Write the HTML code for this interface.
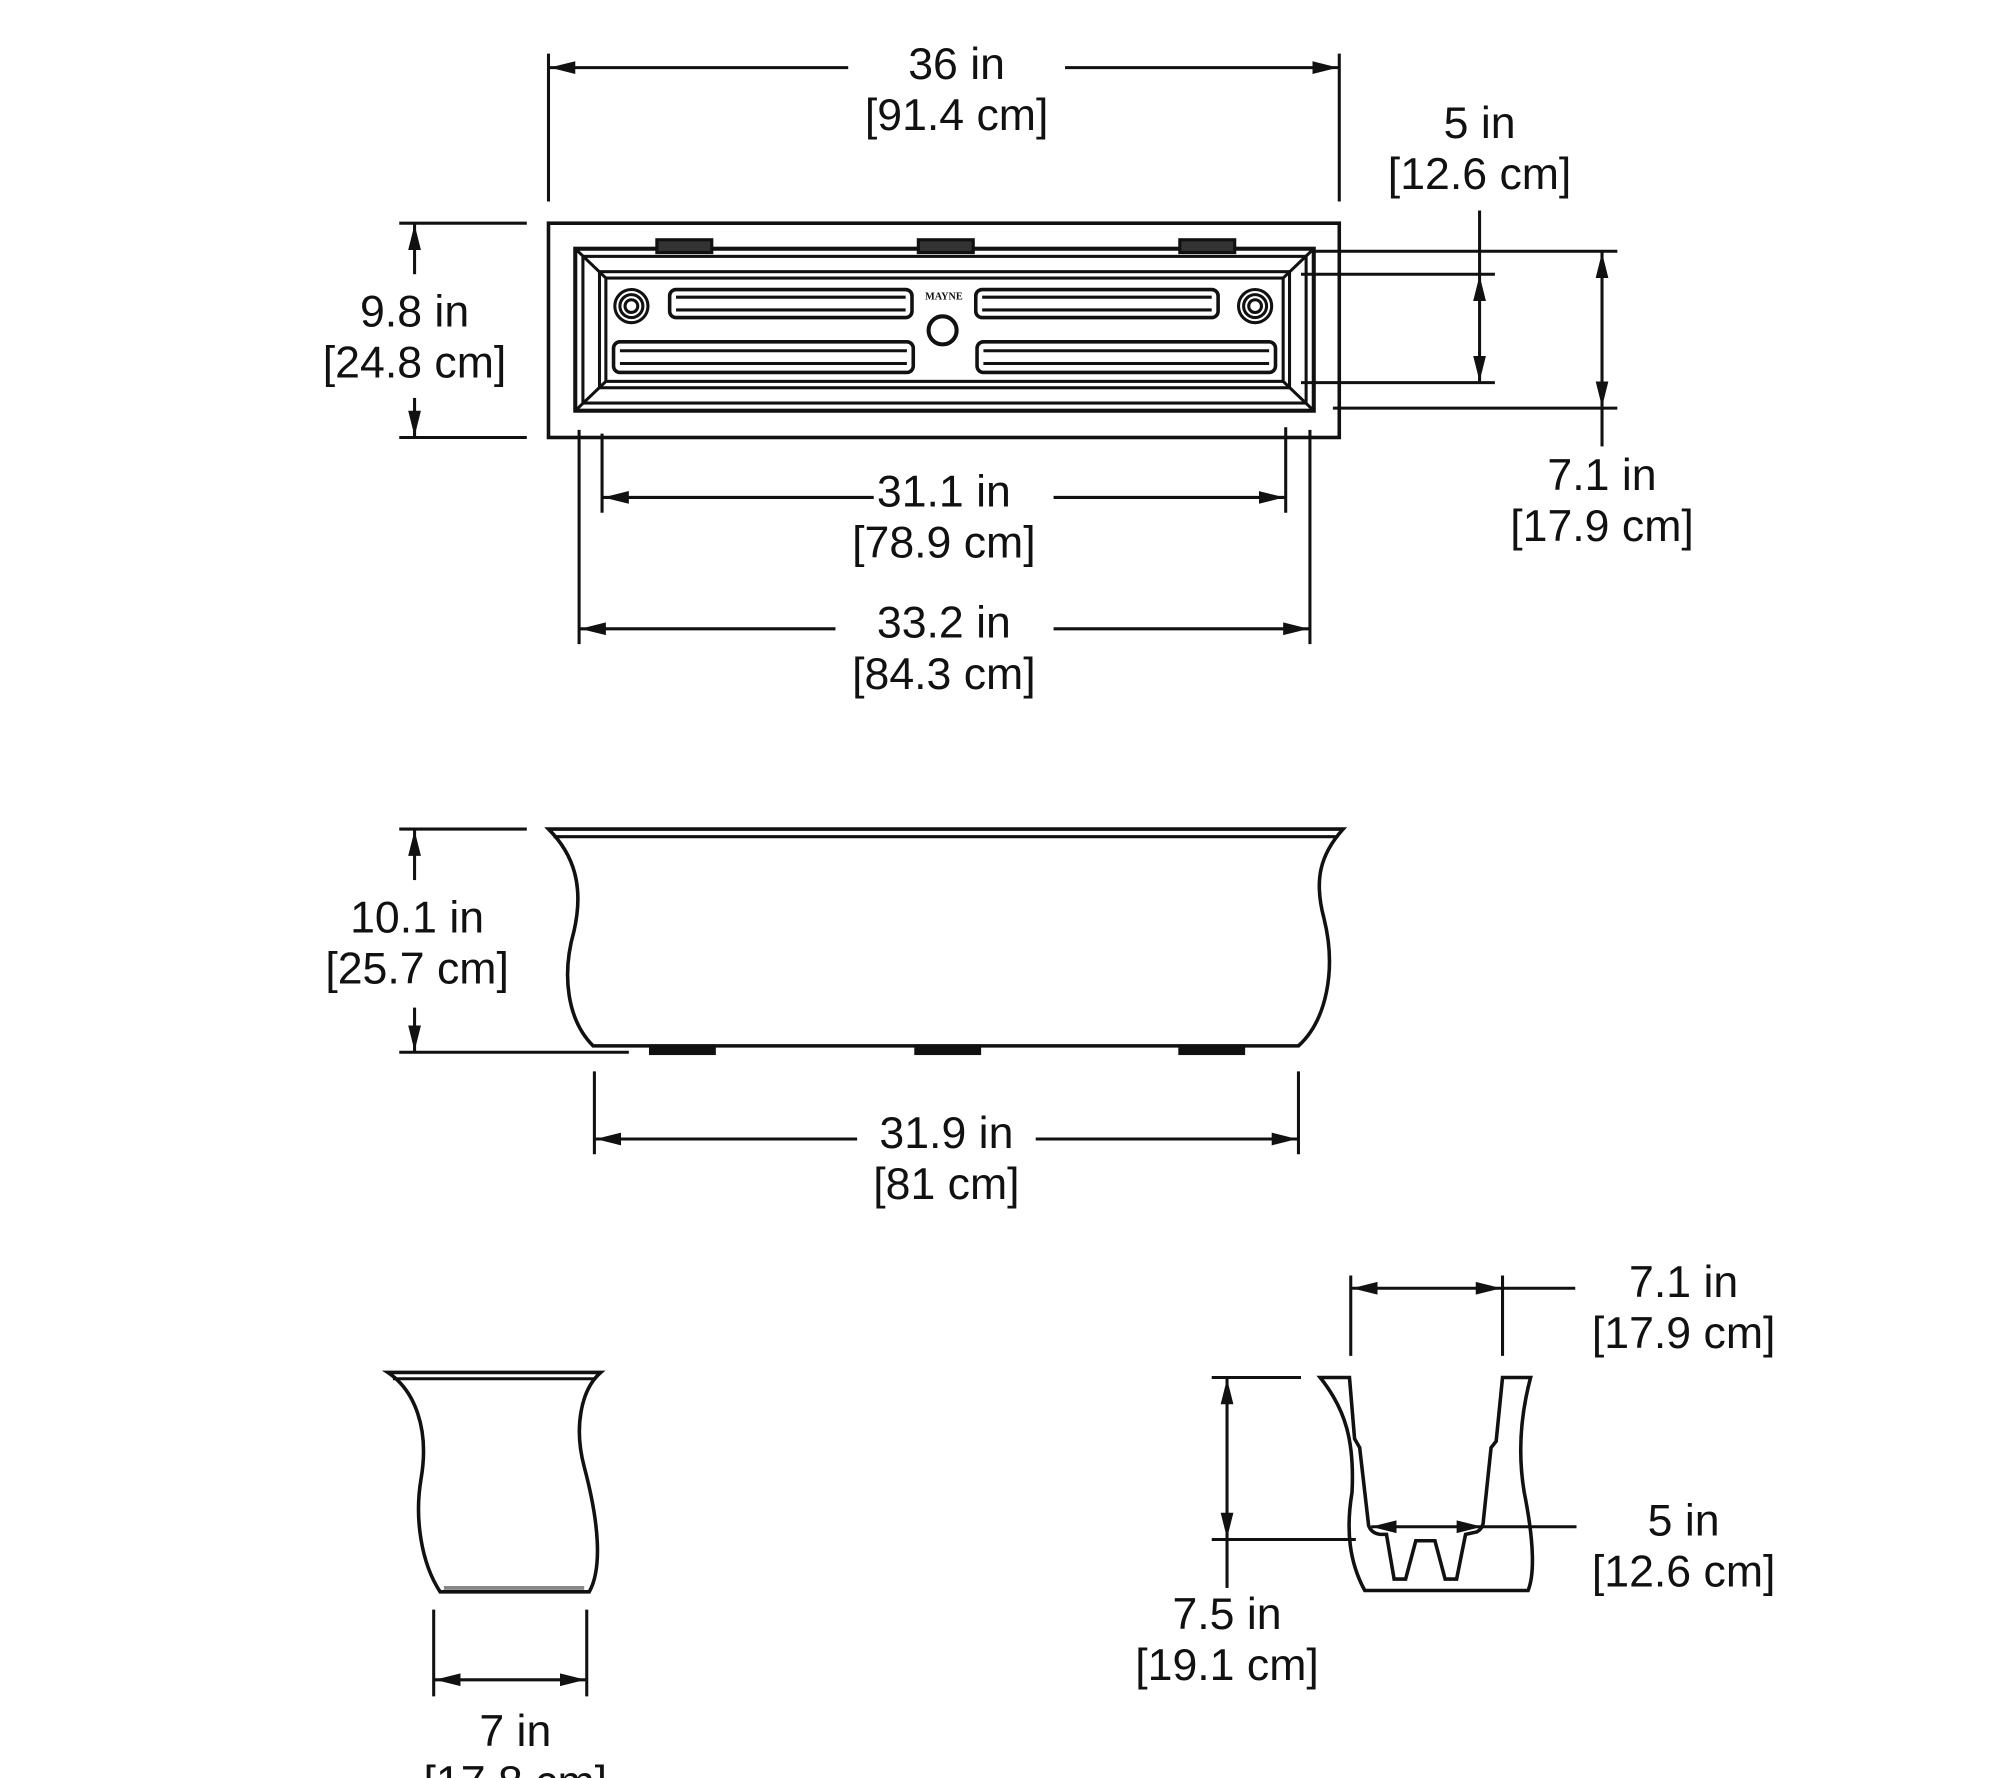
<!DOCTYPE html>
<html><head><meta charset="utf-8"><style>
html,body{margin:0;padding:0;background:#fff;}
svg{display:block;}
text{font-family:"Liberation Sans",Arial,sans-serif;font-size:35px;fill:#111;text-anchor:middle;}
</style></head><body>
<svg width="2000" height="1778" viewBox="0 0 1568 1394" xmlns="http://www.w3.org/2000/svg">
<defs>
<marker id="a" viewBox="0 0 20 10" refX="20" refY="5" markerWidth="20" markerHeight="11" markerUnits="userSpaceOnUse" orient="auto-start-reverse"><path d="M0,0 L20,5 L0,10 z" fill="#111"/></marker>
</defs>
<g stroke="#111" stroke-width="2.4" fill="none">
<!-- TOP VIEW -->
<rect x="430" y="175" width="620" height="168" stroke-width="2.8"/>
<rect x="451" y="195" width="579" height="127" stroke-width="3.2"/>
<rect x="457" y="201" width="567" height="115"/>
<rect x="470" y="213" width="541" height="91"/>
<rect x="475" y="218" width="531" height="81"/>
<path d="M451,195 L475,218 M1030,195 L1006,218 M451,322 L475,299 M1030,322 L1006,299"/>
<g fill="#333" stroke-width="2.5">
<rect x="515" y="188" width="43" height="10"/><rect x="720" y="188" width="43" height="10"/><rect x="925" y="188" width="43" height="10"/>
</g>
<circle cx="495" cy="240" r="13"/><circle cx="495" cy="240" r="9"/><circle cx="495" cy="240" r="5"/>
<circle cx="984" cy="240" r="13"/><circle cx="984" cy="240" r="9"/><circle cx="984" cy="240" r="5"/>
<rect x="525" y="227" width="190" height="22" rx="5" stroke-width="2.8"/><line x1="530" y1="233" x2="710" y2="233"/><line x1="530" y1="243" x2="710" y2="243"/>
<rect x="765" y="227" width="190" height="22" rx="5" stroke-width="2.8"/><line x1="770" y1="233" x2="950" y2="233"/><line x1="770" y1="243" x2="950" y2="243"/>
<rect x="481" y="268" width="235" height="24" rx="5" stroke-width="2.8"/><line x1="486" y1="275" x2="711" y2="275"/><line x1="486" y1="285" x2="711" y2="285"/>
<rect x="766" y="268" width="234" height="24" rx="5" stroke-width="2.8"/><line x1="771" y1="275" x2="995" y2="275"/><line x1="771" y1="285" x2="995" y2="285"/>
<circle cx="739" cy="259" r="11" stroke-width="3.2"/>
<!-- dims top -->
<line x1="430" y1="42" x2="430" y2="158"/><line x1="1050" y1="42" x2="1050" y2="158"/>
<line x1="665" y1="53" x2="431" y2="53" marker-end="url(#a)"/><line x1="835" y1="53" x2="1049" y2="53" marker-end="url(#a)"/>
<line x1="313" y1="175" x2="413" y2="175"/><line x1="313" y1="343" x2="413" y2="343"/>
<line x1="325" y1="215" x2="325" y2="176" marker-end="url(#a)"/><line x1="325" y1="312" x2="325" y2="342" marker-end="url(#a)"/>
<line x1="1020" y1="215" x2="1172" y2="215"/><line x1="1020" y1="300" x2="1172" y2="300"/>
<line x1="1160" y1="165" x2="1160" y2="215"/>
<line x1="1160" y1="216" x2="1160" y2="299" marker-start="url(#a)" marker-end="url(#a)"/>
<line x1="1030" y1="197" x2="1268" y2="197"/><line x1="1045" y1="320" x2="1268" y2="320"/>
<line x1="1256" y1="198" x2="1256" y2="319" marker-start="url(#a)" marker-end="url(#a)"/><line x1="1256" y1="320" x2="1256" y2="350"/>
<line x1="472" y1="340" x2="472" y2="402"/><line x1="1008" y1="335" x2="1008" y2="402"/>
<line x1="685" y1="390" x2="473" y2="390" marker-end="url(#a)"/><line x1="826" y1="390" x2="1007" y2="390" marker-end="url(#a)"/>
<line x1="454" y1="337" x2="454" y2="505"/><line x1="1027" y1="337" x2="1027" y2="505"/>
<line x1="655" y1="493" x2="455" y2="493" marker-end="url(#a)"/><line x1="826" y1="493" x2="1026" y2="493" marker-end="url(#a)"/>
<!-- FRONT VIEW -->
<path d="M430,650 L1053,650 C1035,670 1030,690 1038,720 C1048,760 1040,800 1018,820 L465,820 C445,800 440,765 450,730 C458,695 450,670 430,650 Z" stroke-width="2.8"/>
<line x1="434" y1="656" x2="1049" y2="656"/>
<g fill="#111"><rect x="510" y="820" width="50" height="6"/><rect x="718" y="820" width="50" height="6"/><rect x="925" y="820" width="50" height="6"/></g>
<line x1="313" y1="650" x2="413" y2="650"/><line x1="313" y1="825" x2="493" y2="825"/>
<line x1="325" y1="690" x2="325" y2="651" marker-end="url(#a)"/><line x1="325" y1="790" x2="325" y2="824" marker-end="url(#a)"/>
<line x1="466" y1="840" x2="466" y2="905"/><line x1="1018" y1="840" x2="1018" y2="905"/>
<line x1="672" y1="893" x2="467" y2="893" marker-end="url(#a)"/><line x1="812" y1="893" x2="1017" y2="893" marker-end="url(#a)"/>
<!-- END VIEW -->
<path d="M304,1076 L471,1076 C455,1090 450,1120 458,1150 C470,1195 472,1230 462,1248 L345,1248 C330,1225 325,1190 330,1160 C337,1120 325,1090 304,1076 Z" stroke-width="2.8"/>
<line x1="308" y1="1081" x2="467" y2="1081"/>
<line x1="348" y1="1245" x2="458" y2="1245" stroke-width="3" stroke="#888"/>
<line x1="340" y1="1262" x2="340" y2="1330"/><line x1="460" y1="1262" x2="460" y2="1330"/>
<line x1="341" y1="1317" x2="459" y2="1317" marker-start="url(#a)" marker-end="url(#a)"/>
<!-- SECTION -->
<path d="M1035,1080 L1058,1080 L1062,1128 L1066,1135 L1073,1196 Q1075,1202 1082,1203 L1087,1203 L1093,1238 L1102,1238 L1110,1208 L1125,1208 L1133,1238 L1142,1238 L1149,1203 L1158,1201 Q1163,1198 1163,1192 L1169,1135 L1173,1130 L1178,1080 L1200,1080 C1192,1110 1190,1140 1195,1170 C1203,1210 1203,1235 1198,1247 L1070,1247 C1058,1225 1055,1200 1060,1170 C1062,1130 1055,1105 1035,1080 Z" stroke-width="2.8"/>
<line x1="1059" y1="1000" x2="1059" y2="1063"/><line x1="1178" y1="1000" x2="1178" y2="1063"/>
<line x1="1060" y1="1010" x2="1177" y2="1010" marker-start="url(#a)" marker-end="url(#a)"/><line x1="1178" y1="1010" x2="1235" y2="1010"/>
<line x1="950" y1="1080" x2="1020" y2="1080"/><line x1="950" y1="1207" x2="1063" y2="1207"/>
<line x1="962" y1="1081" x2="962" y2="1206" marker-start="url(#a)" marker-end="url(#a)"/><line x1="962" y1="1207" x2="962" y2="1245"/>
<line x1="1075" y1="1197" x2="1162" y2="1197" marker-start="url(#a)" marker-end="url(#a)"/><line x1="1162" y1="1197" x2="1236" y2="1197"/>
</g>
<text x="750" y="62">36 in</text><text x="750" y="102">[91.4 cm]</text>
<text x="325" y="256">9.8 in</text><text x="325" y="296">[24.8 cm]</text>
<text x="1160" y="108">5 in</text><text x="1160" y="148">[12.6 cm]</text>
<text x="1256" y="384">7.1 in</text><text x="1256" y="424">[17.9 cm]</text>
<text x="740" y="397">31.1 in</text><text x="740" y="437">[78.9 cm]</text>
<text x="740" y="500">33.2 in</text><text x="740" y="540">[84.3 cm]</text>
<text x="327" y="731">10.1 in</text><text x="327" y="771">[25.7 cm]</text>
<text x="742" y="900">31.9 in</text><text x="742" y="940">[81 cm]</text>
<text x="1320" y="1017">7.1 in</text><text x="1320" y="1057">[17.9 cm]</text>
<text x="1320" y="1204">5 in</text><text x="1320" y="1244">[12.6 cm]</text>
<text x="962" y="1277">7.5 in</text><text x="962" y="1317">[19.1 cm]</text>
<text x="404" y="1369">7 in</text><text x="404" y="1409">[17.8 cm]</text>
<text x="740" y="235" style="font-size:8px;font-family:'Liberation Serif',serif;font-weight:bold">MAYNE</text>
</svg>
</body></html>
